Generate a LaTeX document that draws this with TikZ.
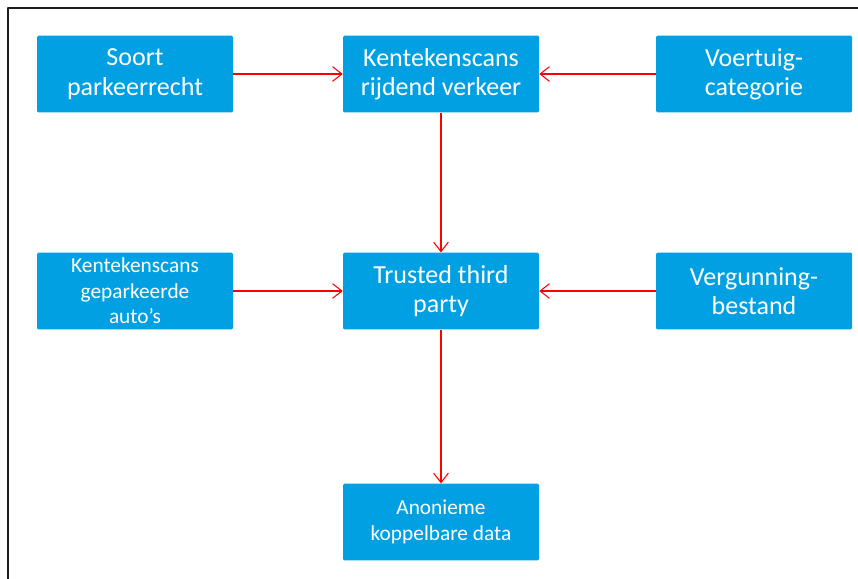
\documentclass[tikz,border=0pt]{standalone}
\usepackage{fontspec}
\setmainfont{Carlito}
\usetikzlibrary{arrows.meta}
\definecolor{vakblauw}{RGB}{0,160,227}
\tikzset{
  vak/.style={fill=vakblauw, text=white, rounded corners=1pt, align=center,
    minimum width=147pt, minimum height=57.5pt, inner sep=2pt},
  groot/.style={font=\fontsize{19.5}{22}\selectfont},
  klein/.style={font=\fontsize{16}{19}\selectfont},
  pijl/.style={->, red, line width=0.8pt}
}
\begin{document}
\begin{tikzpicture}[x=0.75pt, y=-0.75pt, >={Straight Barb[length=7pt, width=11pt]}, line join=round]
			\useasboundingbox (0,0) rectangle (858,579);
			\clip (0,0) rectangle (858,579);
			\draw[line width=1.5pt, black!88] (8,8) rectangle (900,620);
			% bovenste rij
			\node[vak, groot] (soort) at (135,74) {Soort\\parkeerrecht};
			\node[vak, groot] (rijdend) at (441,74) {Kentekenscans\\rijdend verkeer};
			\node[vak, groot] (voertuig) at (754,74) {Voertuig-\\categorie};
			% middelste rij
			\node[vak, klein] (geparkeerd) at (135,291) {Kentekenscans\\geparkeerde\\auto’s};
			\node[vak, groot] (ttp) at (441,291) {Trusted third\\party};
			\node[vak, groot] (vergunning) at (754,291) {Vergunning-\\bestand};
			% uitkomst
			\node[vak, klein] (anoniem) at (441,522) {Anonieme\\koppelbare data};
			\draw[pijl] (soort) -- (rijdend);
			\draw[pijl] (voertuig) -- (rijdend);
			\draw[pijl] (rijdend) -- (ttp);
			\draw[pijl] (geparkeerd) -- (ttp);
			\draw[pijl] (vergunning) -- (ttp);
			\draw[pijl] (ttp) -- (anoniem);
		\end{tikzpicture}
\end{document}
